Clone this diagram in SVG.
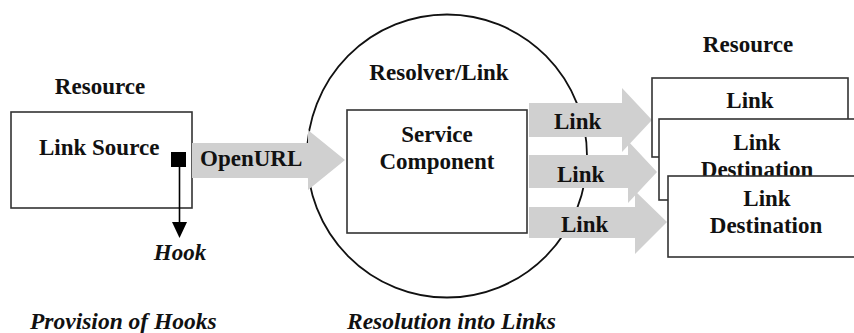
<svg xmlns="http://www.w3.org/2000/svg" width="854" height="333" viewBox="0 0 854 333" font-family="'Liberation Serif', 'Times New Roman', Times, serif">
<style>
  .box { fill: #ffffff; stroke: #333333; stroke-width: 1.6; }
  .ring { fill: #ffffff; stroke: #111111; stroke-width: 1.8; }
  .band { fill: #d0d0d0; stroke: none; }
  .t { font-family: 'Liberation Serif', 'Times New Roman', Times, serif; font-weight: bold; font-size: 23px; fill: #111111; }
  .c { text-anchor: middle; }
  .i { font-style: italic; }
  .cap { font-size: 23.5px; }
</style>

<g id="resolver">
  <ellipse class="ring" cx="447" cy="156" rx="140" ry="141.5"/>
  <text class="t c" x="439" y="80">Resolver/Link</text>
</g>

<g id="link-source">
  <text class="t c" x="100" y="94">Resource</text>
  <rect class="box" x="11" y="112" width="181" height="96"/>
  <text class="t" x="39" y="155">Link Source</text>
  <rect x="171" y="152" width="15" height="15" fill="#000000"/>
</g>

<g id="service-component">
  <rect class="box" x="347" y="110" width="180" height="123"/>
  <text class="t c" x="437" y="142">Service</text>
  <text class="t c" x="437" y="169">Component</text>
</g>

<g id="connectors">
  <g id="openurl">
    <polygon class="band" points="192,143 308,143 308,130 345,160 308,190 308,178 192,178"/>
    <text class="t" x="200" y="166">OpenURL</text>
  </g>
  <g id="hook-arrow">
    <line x1="179.5" y1="167" x2="179.5" y2="224" stroke="#000000" stroke-width="1.6"/>
    <polygon points="172,222 187,222 179.5,238" fill="#000000"/>
  </g>
  <g id="link1">
    <polygon class="band" points="529,103 622,103 622,88 652,120 622,152 622,137 529,137"/>
    <text class="t" x="554" y="129">Link</text>
  </g>
  <g id="link2">
    <polygon class="band" points="529,155 628,155 628,141 657,172 628,203 628,188 529,188"/>
    <text class="t" x="557" y="182">Link</text>
  </g>
  <g id="link3">
    <polygon class="band" points="529,207 635,207 635,191 667,222 635,254 635,238 529,238"/>
    <text class="t" x="561" y="232">Link</text>
  </g>
</g>

<g id="hook-label">
  <text class="t i c" x="180" y="260">Hook</text>
</g>

<g id="destination-1">
  <text class="t c" x="748" y="52">Resource</text>
  <rect class="box" x="652" y="78" width="196" height="79"/>
  <text class="t c" x="750" y="108">Link</text>
</g>

<g id="destination-2">
  <rect class="box" x="659" y="119" width="200" height="81"/>
  <text class="t c" x="757" y="150">Link</text>
  <text class="t c" x="757" y="177">Destination</text>
</g>

<g id="destination-3">
  <rect class="box" x="668" y="176" width="200" height="81"/>
  <text class="t c" x="767" y="206">Link</text>
  <text class="t c" x="766" y="233">Destination</text>
</g>

<g id="captions">
  <text class="t i cap" x="30" y="329">Provision of Hooks</text>
  <text class="t i cap" x="347" y="329">Resolution into Links</text>
</g>
</svg>
